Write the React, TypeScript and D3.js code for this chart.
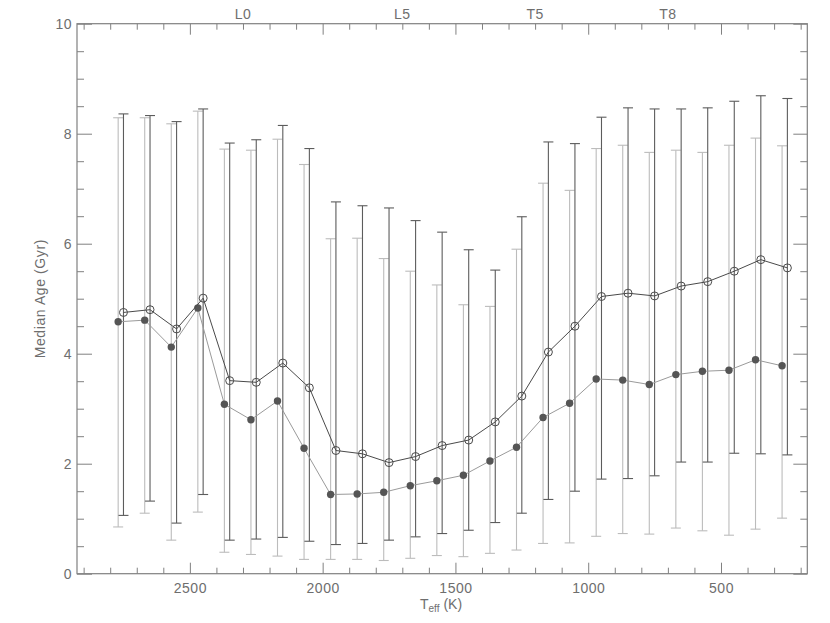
import React, { useEffect, useRef } from "react";
import * as d3 from "d3";

// Teff bin centres (K)
const teffBins = [2750, 2650, 2550, 2450, 2350, 2250, 2150, 2050, 1950, 1850, 1750, 1650, 1550,
  1450, 1350, 1250, 1150, 1050, 950, 850, 750, 650, 550, 450, 350, 250];

// open circles (dark)
const openMedian = [4.75, 4.80, 4.45, 5.01, 3.51, 3.48, 3.83, 3.38, 2.24, 2.18, 2.02, 2.13, 2.33,
  2.43, 2.76, 3.23, 4.03, 4.50, 5.04, 5.10, 5.05, 5.23, 5.31, 5.50, 5.71, 5.56];
const openLow = [1.06, 1.32, 0.92, 1.44, 0.61, 0.63, 0.66, 0.59, 0.53, 0.55, 0.61, 0.67, 0.73,
  0.79, 0.93, 1.10, 1.35, 1.50, 1.72, 1.73, 1.78, 2.03, 2.03, 2.19, 2.18, 2.16];
const openHigh = [8.36, 8.33, 8.22, 8.45, 7.83, 7.89, 8.15, 7.73, 6.76, 6.69, 6.65, 6.42, 6.21,
  5.89, 5.52, 6.49, 7.85, 7.82, 8.30, 8.47, 8.45, 8.45, 8.47, 8.59, 8.69, 8.64];

// filled circles (grey)
const filledMedian = [4.58, 4.61, 4.12, 4.83, 3.08, 2.80, 3.14, 2.28, 1.44, 1.45, 1.48, 1.60, 1.69,
  1.79, 2.05, 2.30, 2.84, 3.10, 3.54, 3.52, 3.44, 3.62, 3.68, 3.70, 3.89, 3.78];
const filledLow = [0.85, 1.10, 0.61, 1.12, 0.39, 0.35, 0.32, 0.26, 0.26, 0.26, 0.24, 0.28, 0.33,
  0.31, 0.37, 0.43, 0.55, 0.56, 0.68, 0.73, 0.72, 0.83, 0.78, 0.70, 0.81, 1.01];
const filledHigh = [8.29, 8.29, 8.18, 8.41, 7.72, 7.70, 7.90, 7.44, 6.09, 6.10, 5.73, 5.50, 5.25,
  4.89, 4.86, 5.90, 7.10, 6.97, 7.73, 7.79, 7.66, 7.70, 7.66, 7.79, 7.92, 7.78];

// spectral type labels on top axis
const sptTeff = [2300, 1700, 1200, 700];
const sptLabels = ["L0", "L5", "T5", "T8"];

const yTicks = [0, 2, 4, 6, 8, 10];

export default function App() {
  const ref = useRef<SVGSVGElement>(null);

  useEffect(() => {
    const svg = d3.select(ref.current);
    svg.selectAll("*").remove();

    const left = 77, right = 807.3, top = 23.7, bottom = 573.7;
    const axisColor = "#808080";
    const textColor = "#6e6e6e";
    const font = "Liberation Sans, Arial, sans-serif";

    const x = d3.scaleLinear().domain([2925, 175]).range([left, right]);
    const y = d3.scaleLinear().domain([0, 10]).range([bottom, top]);

    const styleAxis = (g: any) => {
      g.select(".domain").remove();
      g.selectAll("line").attr("stroke", axisColor);
      g.selectAll("text").attr("fill", textColor).style("font-family", font)
        .style("font-size", "14px").style("letter-spacing", "0.5px");
    };

    const xMajor = [500, 1000, 1500, 2000, 2500];
    const xMinor = d3.range(200, 2901, 100).filter(v => v % 500 !== 0);
    const yMinor = d3.range(0.5, 10, 0.5).filter(v => v % 2 !== 0);

    // bottom axis
    svg.append("g").attr("transform", `translate(0,${bottom})`)
      .call(d3.axisBottom(x).tickValues(xMajor).tickSize(-11).tickPadding(9).tickFormat(d3.format("d")))
      .call(styleAxis);
    svg.append("g").attr("transform", `translate(0,${bottom})`)
      .call(d3.axisBottom(x).tickValues(xMinor).tickSize(-6).tickFormat(() => ""))
      .call(styleAxis);
    // top axis
    svg.append("g").attr("transform", `translate(0,${top})`)
      .call(d3.axisTop(x).tickValues(xMajor).tickSize(-11).tickFormat(() => ""))
      .call(styleAxis);
    svg.append("g").attr("transform", `translate(0,${top})`)
      .call(d3.axisTop(x).tickValues(xMinor).tickSize(-6).tickFormat(() => ""))
      .call(styleAxis);
    // left axis
    svg.append("g").attr("transform", `translate(${left},0)`)
      .call(d3.axisLeft(y).tickValues(yTicks).tickSize(-15).tickPadding(5).tickFormat(d3.format("d")))
      .call(styleAxis);
    svg.append("g").attr("transform", `translate(${left},0)`)
      .call(d3.axisLeft(y).tickValues(yMinor).tickSize(-7).tickFormat(() => ""))
      .call(styleAxis);
    // right axis
    svg.append("g").attr("transform", `translate(${right},0)`)
      .call(d3.axisRight(y).tickValues(yTicks).tickSize(-14).tickFormat(() => ""))
      .call(styleAxis);
    svg.append("g").attr("transform", `translate(${right},0)`)
      .call(d3.axisRight(y).tickValues(yMinor).tickSize(-7).tickFormat(() => ""))
      .call(styleAxis);

    // frame
    svg.append("rect")
      .attr("x", left).attr("y", top)
      .attr("width", right - left).attr("height", bottom - top)
      .attr("fill", "none").attr("stroke", axisColor).attr("stroke-width", 1.2);

    // spectral type labels
    svg.selectAll(".spt").data(sptTeff).enter().append("text")
      .attr("x", d => x(d)).attr("y", 19)
      .attr("text-anchor", "middle")
      .attr("fill", textColor).style("font-family", font).style("font-size", "14px")
      .style("letter-spacing", "0.5px")
      .text((d, i) => sptLabels[i]);

    // axis titles
    const xt = svg.append("text")
      .attr("x", 420).attr("y", 609)
      .attr("fill", textColor).style("font-family", font).style("font-size", "14px");
    xt.append("tspan").text("T");
    xt.append("tspan").attr("dy", 3).style("font-size", "10px").text("eff");
    xt.append("tspan").attr("dy", -3).text(" (K)");

    svg.append("text")
      .attr("transform", `translate(45,${(top + bottom) / 2}) rotate(-90)`)
      .attr("text-anchor", "middle")
      .attr("fill", textColor).style("font-family", font).style("font-size", "14px")
      .style("letter-spacing", "0.6px")
      .text("Median Age (Gyr)");

    const cap = 5;
    const drawSeries = (med: number[], lo: number[], hi: number[], offset: number, barColor: string) => {
      const pts = teffBins.map((t, i) => ({ t: t + offset, m: med[i], lo: lo[i], hi: hi[i] }));
      const g = svg.append("g");
      // error bars
      pts.forEach(p => {
        const px = x(p.t);
        g.append("line").attr("x1", px).attr("x2", px).attr("y1", y(p.lo)).attr("y2", y(p.hi))
          .attr("stroke", barColor).attr("stroke-width", 1.1);
        [p.lo, p.hi].forEach(v => {
          g.append("line").attr("x1", px - cap).attr("x2", px + cap).attr("y1", y(v)).attr("y2", y(v))
            .attr("stroke", barColor).attr("stroke-width", 1.1);
        });
      });
      return pts;
    };

    const filledPts = drawSeries(filledMedian, filledLow, filledHigh, 20, "#bcbcbc");
    const openPts = drawSeries(openMedian, openLow, openHigh, 0, "#5c5c5c");

    const line = d3.line<{ t: number; m: number }>().x(d => x(d.t)).y(d => y(d.m));

    svg.append("path").datum(filledPts).attr("d", line as any)
      .attr("fill", "none").attr("stroke", "#9a9a9a").attr("stroke-width", 1);
    svg.selectAll(".fpt").data(filledPts).enter().append("circle")
      .attr("cx", d => x(d.t)).attr("cy", d => y(d.m)).attr("r", 3.7)
      .attr("fill", "#555555");

    svg.append("path").datum(openPts).attr("d", line as any)
      .attr("fill", "none").attr("stroke", "#4a4a4a").attr("stroke-width", 1);
    svg.selectAll(".opt").data(openPts).enter().append("circle")
      .attr("cx", d => x(d.t)).attr("cy", d => y(d.m)).attr("r", 4)
      .attr("fill", "none").attr("stroke", "#4a4a4a").attr("stroke-width", 1);
  }, []);

  return (
    <svg ref={ref} width={830} height={623}
      style={{ position: "absolute", left: 0, top: 0, background: "#fff" }} />
  );
}
